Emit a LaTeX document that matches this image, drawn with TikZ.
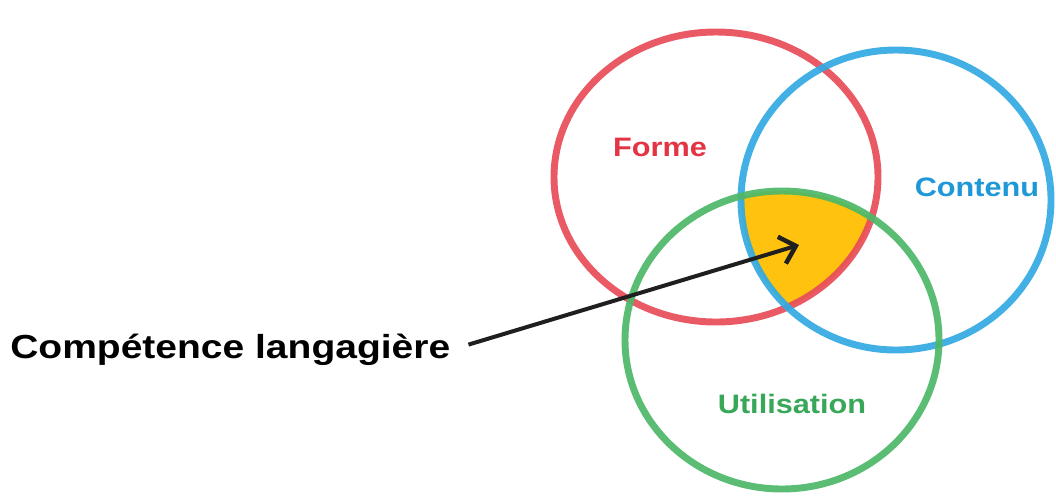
\documentclass[tikz,border=0pt]{standalone}
\usepackage{fontspec}
\setmainfont{Liberation Sans}
\usetikzlibrary{arrows.meta}
\definecolor{myred}{RGB}{232, 76, 88}
\definecolor{myblue}{RGB}{50, 170, 226}
\definecolor{mygreen}{RGB}{76, 184, 104}
\definecolor{myyellow}{RGB}{255, 195, 15}
\definecolor{myredtext}{RGB}{226, 52, 66}
\definecolor{mybluetext}{RGB}{30, 152, 214}
\definecolor{mygreentext}{RGB}{56, 168, 88}
\tikzset{>=latex}
\tikzset{ring/.style = {line width = 5.2pt, opacity = 0.92},
  lbl/.style = {font = \fontsize{20}{24}\selectfont\bfseries, xscale = 1.15, inner sep = 0pt}}

\begin{document}
\begin{tikzpicture}[x = 0.75pt, y = -0.75pt]
\useasboundingbox (0,0) rectangle (1056,497);
\fill[white] (0,0) rectangle (1056,497);
% common part of the three circles
\begin{scope}
\clip (716,177) ellipse [x radius = 162, y radius = 145];
\clip (896,200) ellipse [x radius = 155, y radius = 150];
\fill[myyellow] (782,340) ellipse [x radius = 157, y radius = 149];
\end{scope}
\draw[ring, myred] (716,177) ellipse [x radius = 162, y radius = 145];
\draw[ring, myblue] (896,200) ellipse [x radius = 155, y radius = 150];
\draw[ring, mygreen] (782,340) ellipse [x radius = 157, y radius = 149];
\node[lbl, myredtext] (forme) at (660,147) {Forme};
\node[lbl, mybluetext] (contenu) at (977,187) {Contenu};
\node[lbl, mygreentext] (utilisation) at (792,404) {Utilisation};
\node[font = \fontsize{25}{30}\selectfont\bfseries, xscale = 1.17, inner sep = 0pt, anchor = west] (comp) at (10,350) {Compétence langagière};
\coordinate (tip) at (799,245);
\draw[line width = 3pt, color = black!88, -{Straight Barb[length = 11pt, width = 21pt, line width = 3.4pt]}, shorten < = 14pt] (comp.east) -- (tip);
\end{tikzpicture}
\end{document}
